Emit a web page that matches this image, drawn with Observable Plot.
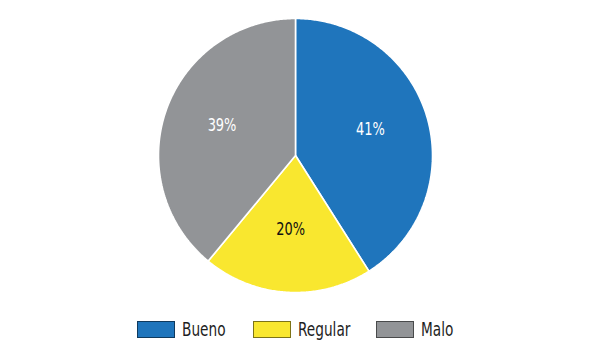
<!DOCTYPE html>
<html>
<head>
<meta charset="utf-8">
<script src="https://cdn.jsdelivr.net/npm/d3@7"></script>
<script src="https://cdn.jsdelivr.net/npm/@observablehq/plot@0.6"></script>
<style>
  html, body { margin: 0; padding: 0; background: #fff; }
  #chart { width: 597px; position: relative; }
  .legend { position: relative; height: 56px; width: 597px;
    font-family: "DejaVu Sans Condensed", "Liberation Sans Narrow", sans-serif; font-size: 19px; color: #1e1e1e; }
  .item { position: absolute; top: 13px; display: flex; align-items: center; white-space: nowrap; }
  .sw { width: 36px; height: 15px; border: 1px solid rgba(0,0,0,0.5); margin-right: 7px; flex: none; }
  .lb { display: inline-block; transform: scaleX(0.8); transform-origin: left center; }
</style>
</head>
<body>
<div id="chart"></div>
<script>
const categories = ["Bueno", "Regular", "Malo"];
const values = [41, 20, 39];
const colors = ["#1f75bc", "#f9e72f", "#929497"];
const labels = ["41%", "20%", "39%"];
const darkText = [false, true, false];
const legendLeft = [137, 253, 376];

const font = '"DejaVu Sans Condensed", "Liberation Sans Narrow", sans-serif';
const cx = 295, cy = 155, R = 137;

const arcs = d3.pie().sort(null)(values);
const pts = [];
const labelData = [];
arcs.forEach((a, i) => {
  const cat = categories[i];
  pts.push({cat, x: 0, y: 0});
  const n = Math.max(2, Math.ceil((a.endAngle - a.startAngle) / 0.01));
  for (let k = 0; k <= n; k++) {
    const t = a.startAngle + (a.endAngle - a.startAngle) * k / n;
    pts.push({cat, x: Math.sin(t), y: Math.cos(t)});
  }
  const m = (a.startAngle + a.endAngle) / 2;
  labelData.push({cat, text: labels[i], dark: darkText[i], x: 0.57 * Math.sin(m), y: 0.57 * Math.cos(m)});
});

const chart = Plot.plot({
  width: 597,
  height: 305,
  margin: 0,
  x: {domain: [-1, 1], range: [cx - R, cx + R], axis: null},
  y: {domain: [-1, 1], range: [cy + R, cy - R], axis: null},
  color: {domain: categories, range: colors},
  style: {fontFamily: font, background: "white"},
  marks: [
    Plot.line(pts, {x: "x", y: "y", z: "cat", fill: "cat", stroke: "white", strokeWidth: 1.6, curve: "linear-closed", strokeLinejoin: "miter"}),
    Plot.text(labelData, {filter: d => !d.dark, x: "x", y: "y", text: "text", fill: "white", fontSize: 18, dy: -4}),
    Plot.text(labelData, {filter: d => d.dark, x: "x", y: "y", text: "text", fill: "#111", fontSize: 18, dy: -4})
  ]
});
const root = document.getElementById("chart");
root.appendChild(chart);

// condense the pie labels horizontally
chart.querySelectorAll("text").forEach(t => {
  const w = t.getComputedTextLength();
  t.setAttribute("textLength", (w * 0.8).toFixed(1));
  t.setAttribute("lengthAdjust", "spacingAndGlyphs");
});

const legend = document.createElement("div");
legend.className = "legend";
categories.forEach((c, i) => {
  const it = document.createElement("div");
  it.className = "item";
  it.style.left = legendLeft[i] + "px";
  const sw = document.createElement("div");
  sw.className = "sw";
  sw.style.background = colors[i];
  const lb = document.createElement("span");
  lb.className = "lb";
  lb.textContent = c;
  it.appendChild(sw);
  it.appendChild(lb);
  legend.appendChild(it);
});
root.appendChild(legend);
</script>
</body>
</html>
